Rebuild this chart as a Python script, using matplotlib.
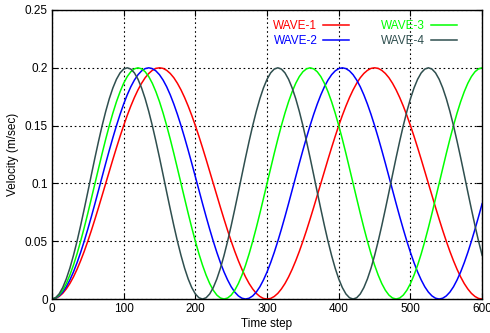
import matplotlib
matplotlib.use("Agg")
import matplotlib.pyplot as plt

plt.rcParams['font.family'] = ['Liberation Sans', 'DejaVu Sans']

# time steps, sampled every 5 steps
t = list(range(0, 601, 5))

# WAVE-1 (one cycle ~300 steps)
w1_cycle = [0, .0005, .0022, .0049, .0087, .0134, .0191, .0257, .0331, .0412, .0500, .0593, .0691, .0792,
            .0896, .1000, .1104, .1208, .1309, .1407, .1500, .1588, .1669, .1743, .1809, .1866, .1914,
            .1951, .1978, .1995, .2000, .1995, .1978, .1951, .1914, .1866, .1809, .1743, .1669, .1588,
            .1500, .1407, .1309, .1208, .1104, .1000, .0896, .0792, .0691, .0593, .0500, .0412, .0331,
            .0257, .0191, .0134, .0087, .0049, .0022, .0005]
wave1 = w1_cycle + w1_cycle + [0]

# WAVE-2 (one cycle ~270 steps)
w2_cycle = [0, .0007, .0027, .0060, .0106, .0165, .0234, .0314, .0403, .0500, .0604, .0713, .0826, .0942,
            .1058, .1174, .1287, .1396, .1500, .1597, .1686, .1766, .1836, .1894, .1940, .1973, .1993,
            .2000, .1993, .1973, .1940, .1894, .1836, .1766, .1686, .1597, .1500, .1396, .1287, .1174,
            .1058, .0942, .0826, .0713, .0604, .0500, .0403, .0314, .0234, .0165, .0106, .0060, .0027,
            .0007]
wave2 = w2_cycle + w2_cycle + [0, .0007, .0027, .0060, .0106, .0165, .0234, .0314, .0403, .0500,
                               .0604, .0713, .0826]

# WAVE-3 (one cycle ~240 steps)
w3_cycle = [0, .0009, .0034, .0076, .0134, .0207, .0293, .0391, .0500, .0617, .0741, .0870, .1000,
            .1130, .1259, .1383, .1500, .1609, .1707, .1793, .1866, .1924, .1966, .1991, .2000,
            .1991, .1966, .1924, .1866, .1793, .1707, .1609, .1500, .1383, .1259, .1130, .1000,
            .0870, .0741, .0617, .0500, .0391, .0293, .0207, .0134, .0076, .0034, .0009]
wave3 = w3_cycle + w3_cycle + [0, .0009, .0034, .0076, .0134, .0207, .0293, .0391, .0500, .0617,
                               .0741, .0870, .1000, .1130, .1259, .1383, .1500, .1609, .1707,
                               .1793, .1866, .1924, .1966, .1991, .2000]

# WAVE-4 (one cycle ~210 steps)
w4_cycle = [0, .0011, .0044, .0099, .0174, .0267, .0377, .0500, .0635, .0778, .0925, .1075, .1223,
            .1365, .1500, .1623, .1733, .1826, .1901, .1956, .1989, .2000, .1989, .1956, .1901,
            .1826, .1733, .1623, .1500, .1365, .1223, .1075, .0925, .0778, .0635, .0500, .0377,
            .0267, .0174, .0099, .0044, .0011]
wave4 = w4_cycle + w4_cycle + [0, .0011, .0044, .0099, .0174, .0267, .0377, .0500, .0635, .0778,
                               .0925, .1075, .1223, .1365, .1500, .1623, .1733, .1826, .1901,
                               .1956, .1989, .2000, .1989, .1956, .1901, .1826, .1733, .1623,
                               .1500, .1365, .1223, .1075, .0925, .0778, .0635, .0500, .0377]

names = ['WAVE-1', 'WAVE-2', 'WAVE-3', 'WAVE-4']
colors = ['#ff0000', '#0000ff', '#00ff00', '#2f4f4f']

fig = plt.figure(figsize=(4.9, 3.33), dpi=100)
ax = fig.add_axes([0.106, 0.102, 0.878, 0.868])

for y, name, c in zip([wave1, wave2, wave3, wave4], names, colors):
    ax.plot(t, y, color=c, lw=1.1, label=name)

ax.set_xlim(0, 600)
ax.set_ylim(0, 0.25)
ax.set_xticks([0, 100, 200, 300, 400, 500, 600])
ax.set_yticks([0, 0.05, 0.1, 0.15, 0.2, 0.25])
ax.set_yticklabels(['0', '0.05', '0.1', '0.15', '0.2', '0.25'])
ax.tick_params(direction='in', top=True, right=True, length=4, width=0.8, labelsize=8.5, pad=3)
ax.grid(True, color='black', linestyle=(0, (1.5, 2.5)), linewidth=0.8)
for s in ax.spines.values():
    s.set_linewidth(1.0)

ax.set_xlabel('Time step', fontsize=8.5, labelpad=2)
ax.set_ylabel('Velocity (m/sec)', fontsize=8.5, labelpad=4)

leg = ax.legend(loc='upper right', bbox_to_anchor=(0.958, 0.99), ncol=2, frameon=False,
                markerfirst=False, fontsize=8.5, handlelength=2.2, handletextpad=0.5,
                columnspacing=2.7, labelspacing=0.25, borderaxespad=0.2)
for txt, c in zip(leg.get_texts(), colors):
    txt.set_color(c)

fig.savefig('out.png', dpi=100)
